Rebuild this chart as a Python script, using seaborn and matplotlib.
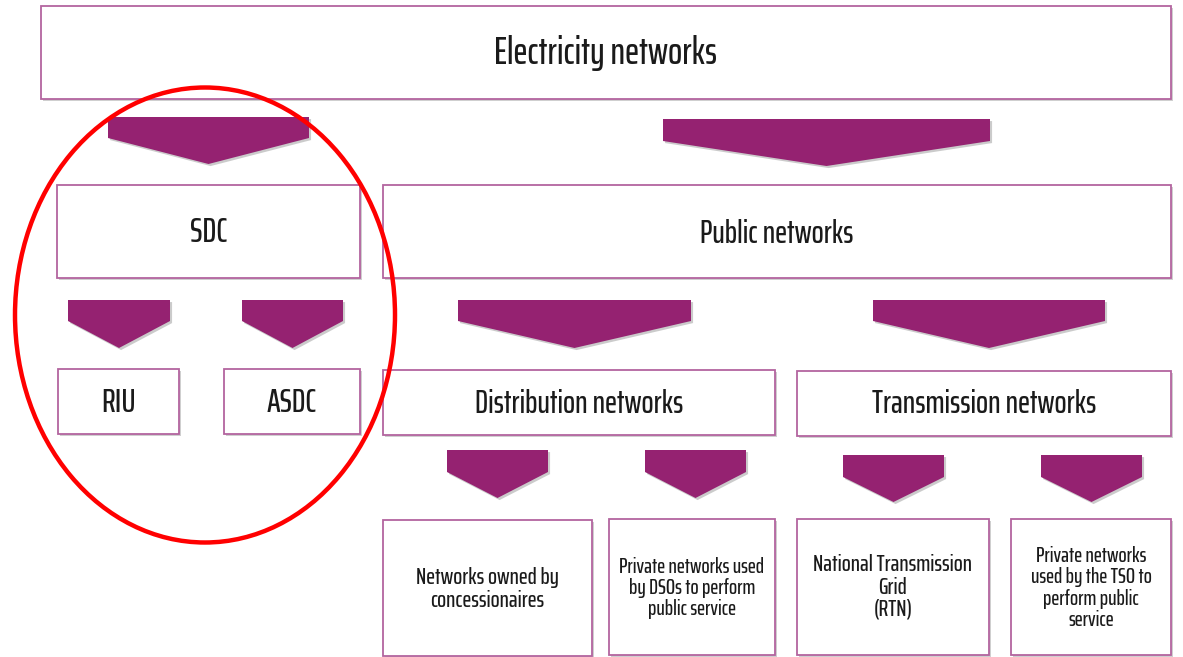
import matplotlib
matplotlib.use("Agg")
import matplotlib.pyplot as plt
import matplotlib.patches as mpatches
import matplotlib.patheffects as pe
import seaborn as sns

sns.set_theme(style="white")

# box labels and their extents in picture pixels (x0, y0, x1, y1)
box_labels = [
    "Electricity networks",
    "SDC",
    "Public networks",
    "RIU",
    "ASDC",
    "Distribution networks",
    "Transmission networks",
    "Networks owned by\nconcessionaires",
    "Private networks used\nby DSOs to perform\npublic service",
    "National Transmission\nGrid\n(RTN)",
    "Private networks\nused by the TSO to\nperform public\nservice",
]
box_extents = [
    (41, 6, 1171, 99),
    (57, 185, 360, 278),
    (383, 185, 1171, 278),
    (58, 369, 179, 434),
    (224, 369, 360, 434),
    (383, 370, 775, 435),
    (797, 371, 1171, 436),
    (383, 520, 592, 656),
    (609, 519, 775, 655),
    (797, 519, 989, 655),
    (1011, 519, 1171, 655),
]
box_fontsizes = [27, 24.5, 23, 24, 24, 23, 23, 17, 15.5, 17, 15.5]
box_text_y = [53, 233, 234, 403, 403, 404, 404, 589, 588, 587, 588]

# arrow shapes: (x left, x right, y top, y shoulder, y tip)
arrows = [
    (108, 309, 117, 138, 164),
    (663, 990, 119, 141, 166),
    (68, 170, 300, 321, 348),
    (242, 343, 300, 321, 348),
    (458, 691, 300, 321, 348),
    (873, 1105, 300, 321, 348),
    (447, 548, 450, 472, 498),
    (645, 746, 450, 472, 498),
    (843, 944, 455, 477, 502),
    (1041, 1142, 455, 477, 502),
]

# red highlight ellipse: centre x, centre y, width, height
ellipse = (205, 315, 380, 455)

W, H = 1183, 657
fig = plt.figure(figsize=(W / 100, H / 100), dpi=100)
ax = fig.add_axes([0, 0, 1, 1])
ax.set_xlim(0, W)
ax.set_ylim(H, 0)
ax.axis("off")

families = ["Saira ExtraCondensed", "DejaVu Sans"]

shadow = [pe.SimplePatchShadow(offset=(1.5, -1.5), shadow_rgbFace="#777777", alpha=0.35), pe.Normal()]

for label, (x0, y0, x1, y1), fs, ty in zip(box_labels, box_extents, box_fontsizes, box_text_y):
    rect = mpatches.Rectangle((x0, y0), x1 - x0, y1 - y0, facecolor="white",
                              edgecolor="#b3649f", linewidth=1.3, zorder=2)
    rect.set_path_effects(shadow)
    ax.add_patch(rect)
    ax.text((x0 + x1) / 2, ty, label, ha="center", va="center", fontsize=fs,
            color="#1a1a1a", family=families, weight="medium", linespacing=1.08, zorder=3)

for xl, xr, yt, ys, ytip in arrows:
    pts = [(xl, yt), (xr, yt), (xr, ys), ((xl + xr) / 2, ytip), (xl, ys)]
    poly = mpatches.Polygon(pts, closed=True, facecolor="#952271", edgecolor="none", zorder=2)
    poly.set_path_effects([pe.SimplePatchShadow(offset=(1.5, -1.5), shadow_rgbFace="#555555", alpha=0.3),
                           pe.Normal()])
    ax.add_patch(poly)

cx, cy, ew, eh = ellipse
ax.add_patch(mpatches.Ellipse((cx, cy), ew, eh, facecolor="none", edgecolor="#ff0000",
                              linewidth=3.2, zorder=4))

fig.savefig("out.png", dpi=100)
